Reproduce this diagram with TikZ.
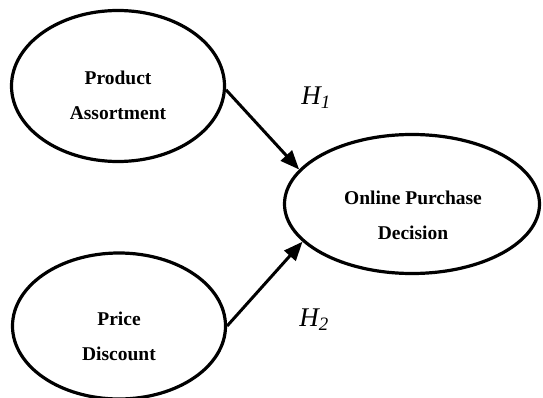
\documentclass[tikz,border=0pt]{standalone}
\usepackage{fontspec}
\setmainfont{Liberation Serif}
\usetikzlibrary{shapes.geometric,arrows.meta}
\begin{document}
\begin{tikzpicture}[x=1pt,y=-1pt,
  oval/.style={draw=black,line width=3.2pt,ellipse,inner sep=0pt},
  lbl/.style={align=center,font=\fontsize{19.5}{35}\selectfont\bfseries},
  hyp/.style={font=\fontsize{27}{30}\selectfont\itshape,inner sep=0pt},
  link/.style={line width=3pt,-{Triangle[length=19pt,width=15pt]}}]
\useasboundingbox (0,0) rectangle (543,398);
\node[oval,minimum width=213pt,minimum height=151pt] (pa) at (118,86) {};
\node[oval,minimum width=213pt,minimum height=146pt] (pd) at (119,326) {};
\node[oval,minimum width=255pt,minimum height=139pt] (opd) at (412,204) {};
\node[lbl] (tpa) at (118,95) {Product\\Assortment};
\node[lbl] (tpd) at (119,336) {Price\\Discount};
\node[lbl] (topd) at (413,215) {Online Purchase\\Decision};
\node[hyp] (h1) at (316,98) {H\textsubscript{1}};
\node[hyp] (h2) at (314,320) {H\textsubscript{2}};
\draw[link] (pa.-2) -- (opd.163);
\draw[link] (pd.east) -- (opd.199);
\end{tikzpicture}
\end{document}
